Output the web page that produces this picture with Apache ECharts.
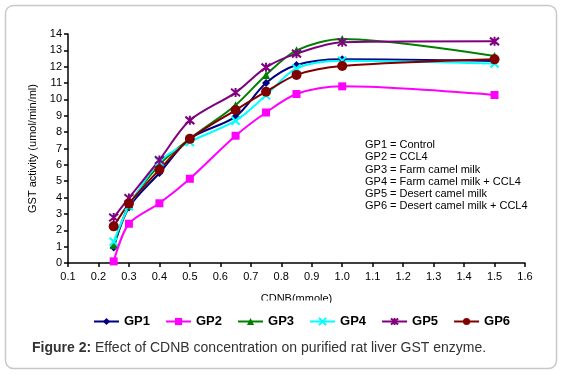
<!DOCTYPE html>
<html lang="en">
<head>
    <meta charset="utf-8">
    <title>GST activity</title>
    <script src="https://cdn.jsdelivr.net/npm/echarts@6/dist/echarts.min.js"></script>
</head>
<body style="margin:0; background:#fff;">
<div id="main" style="width: 562px; height: 374px;"></div>
<script type="text/javascript">
    // CDNB concentration (mmole)
    const cdnb = [0.25, 0.3, 0.4, 0.5, 0.65, 0.75, 0.85, 1.0, 1.5];
    const groups = ['GP1', 'GP2', 'GP3', 'GP4', 'GP5', 'GP6'];
    // GST activity (umol/min/ml)
    const gp1 = [0.95, 3.4, 5.5, 7.6, 8.95, 11.0, 12.1, 12.45, 12.35];
    const gp2 = [0.1, 2.4, 3.65, 5.15, 7.78, 9.2, 10.33, 10.8, 10.27];
    const gp3 = [1.1, 3.5, 6.0, 7.6, 9.65, 11.5, 13.0, 13.7, 12.65];
    const gp4 = [1.3, 3.45, 6.2, 7.4, 8.7, 10.25, 11.9, 12.37, 12.2];
    const gp5 = [2.78, 3.98, 6.3, 8.72, 10.42, 11.96, 12.8, 13.5, 13.55];
    const gp6 = [2.24, 3.63, 5.71, 7.59, 9.35, 10.47, 11.5, 12.04, 12.45];
    const notes = ['GP1 = Control', 'GP2 = CCL4', 'GP3 = Farm camel milk',
        'GP4 = Farm camel milk + CCL4', 'GP5 = Desert camel milk', 'GP6 = Desert camel milk + CCL4'];

    const colors = ['#000080', '#ff00ff', '#008000', '#00ffff', '#800080', '#800000'];
    const symbols = ['diamond', 'rect', 'triangle',
        'path://M0,0L10,10M10,0L0,10',
        'path://M0,0L10,10M10,0L0,10M5,-1L5,11',
        'circle'];
    const sizes = [8, 8, 8, 8, 9, 10];
    const values = [gp1, gp2, gp3, gp4, gp5, gp6];

    const series = groups.map(function (name, i) {
        const open = i === 3 || i === 4;
        return {
            name: name,
            type: 'line',
            smooth: 0.3,
            data: cdnb.map(function (x, j) { return [x, values[i][j]]; }),
            symbol: symbols[i],
            symbolSize: sizes[i],
            lineStyle: {color: colors[i], width: 2},
            itemStyle: {
                color: colors[i],
                borderColor: colors[i],
                borderWidth: open ? 2 : 0
            },
            z: i === 1 ? 3 : 2
        };
    });

    const myChart = echarts.init(document.getElementById('main'));
    const option = {
        animation: false,
        color: colors,
        grid: {left: 68, top: 34, right: 37, bottom: 111},
        xAxis: {
            type: 'value',
            min: 0.1, max: 1.6, interval: 0.1,
            name: 'CDNB(mmole)',
            nameLocation: 'middle',
            nameGap: 30,
            nameTextStyle: {fontFamily: 'Arial, Liberation Sans', fontSize: 11, color: '#000'},
            splitLine: {show: false},
            axisLine: {lineStyle: {color: '#000', width: 1.5}},
            axisTick: {lineStyle: {color: '#000', width: 1.5}, length: 4},
            axisLabel: {
                fontFamily: 'Arial, Liberation Sans', fontSize: 11, color: '#000', margin: 8,
                formatter: function (v) { return v.toFixed(1); }
            }
        },
        yAxis: {
            type: 'value',
            min: 0, max: 14, interval: 1,
            name: 'GST activity (umol/min/ml)',
            nameLocation: 'middle',
            nameGap: 27,
            nameTextStyle: {fontFamily: 'Arial, Liberation Sans', fontSize: 11, color: '#000'},
            splitLine: {show: false},
            axisLine: {show: true, lineStyle: {color: '#000', width: 1.5}},
            axisTick: {show: true, lineStyle: {color: '#000', width: 1.5}, length: 4},
            axisLabel: {fontFamily: 'Arial, Liberation Sans', fontSize: 11, color: '#000', margin: 6}
        },
        legend: {
            data: groups,
            left: 88,
            top: 310,
            itemWidth: 25,
            itemHeight: 9,
            itemGap: 15,
            textStyle: {fontFamily: 'Arial, Liberation Sans', fontSize: 13, fontWeight: 'bold', color: '#000'}
        },
        graphic: [
            {
                type: 'rect', silent: true, z: -1,
                shape: {x: 5.5, y: 5.5, width: 551, height: 363, r: 8},
                style: {fill: '#fff', stroke: '#c8c8c8', lineWidth: 1.5}
            },
            {
                // the axis title is cut off at the bottom in the original
                type: 'rect', silent: true, z: 100,
                shape: {x: 240, y: 300.5, width: 90, height: 6},
                style: {fill: '#fff'}
            },
            {
                type: 'text', left: 365, top: 139,
                style: {
                    text: notes.join('\n'),
                    font: '11px Arial, Liberation Sans',
                    lineHeight: 12.2,
                    fill: '#000'
                }
            },
            {
                type: 'text', left: 32, top: 341,
                style: {
                    text: '{b|Figure 2:} Effect of CDNB concentration on purified rat liver GST enzyme.',
                    font: '14px Arial, Liberation Sans',
                    fill: '#333',
                    rich: {
                        b: {fontWeight: 'bold', fontSize: 14, fontFamily: 'Arial, Liberation Sans', fill: '#333'}
                    }
                }
            }
        ],
        series: series
    };
    myChart.setOption(option);
</script>
</body>
</html>
